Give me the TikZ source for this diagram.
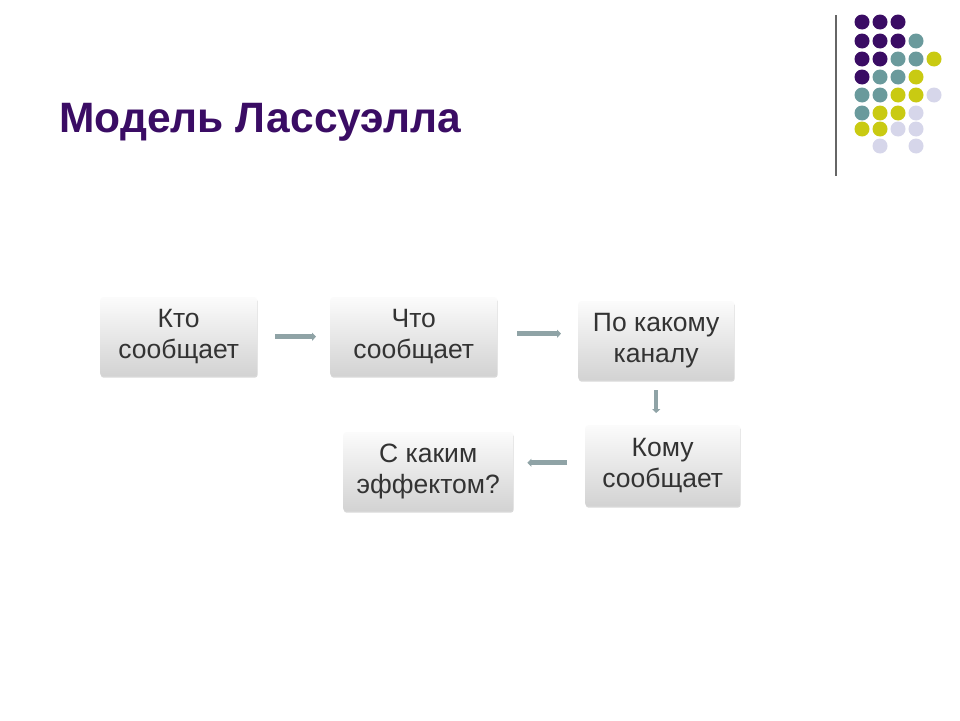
\documentclass[tikz,border=0pt]{standalone}
\usepackage{fontspec}
\setmainfont{Liberation Sans}
\usetikzlibrary{arrows.meta,shadows}
\definecolor{pu}{HTML}{3A0C64}
\definecolor{te}{HTML}{6A9A9C}
\definecolor{ye}{HTML}{C9CA12}
\definecolor{li}{HTML}{D6D6EA}
\definecolor{arr}{HTML}{8FA3A6}
\tikzset{
  box/.style={draw=none,rounded corners=3pt,top color=white!97!gray,bottom color=gray!35,drop shadow={shadow xshift=0.5pt,shadow yshift=-1.5pt,opacity=0.3},
    align=center,text=black!80,font=\fontsize{26.5}{31}\selectfont,anchor=north west,inner sep=2pt},
  conn/.style={line width=4.5pt,draw=arr,-{Triangle[length=4pt,width=8pt]}}
}
\begin{document}
\begin{tikzpicture}[x=1pt,y=-1pt]
\useasboundingbox (0,0) rectangle (960,720);
\fill[white] (0,0) rectangle (960,720);
\node[anchor=west,text=pu,font=\bfseries\fontsize{42.5}{46}\selectfont] (title) at (56,122) {Модель Лассуэлла};
\draw[gray!80!black,line width=2pt] (836,15) -- (836,176);
\foreach \r/\cols in {22/{1/pu,2/pu,3/pu},41/{1/pu,2/pu,3/pu,4/te},59/{1/pu,2/pu,3/te,4/te,5/ye},77/{1/pu,2/te,3/te,4/ye},95/{1/te,2/te,3/ye,4/ye,5/li},113/{1/te,2/ye,3/ye,4/li},129/{1/ye,2/ye,3/li,4/li},146/{2/li,4/li}}{
  \foreach \c/\col in \cols { \fill[\col] ({844+18*\c},\r) circle (7.5pt); }
}
\node[box,minimum width=157pt,minimum height=79pt] (a) at (100,297) {Кто\\сообщает};
\node[box,minimum width=167pt,minimum height=79pt] (b) at (330,297) {Что\\сообщает};
\node[box,minimum width=156pt,minimum height=79pt] (c) at (578,301) {По какому\\каналу};
\node[box,minimum width=155pt,minimum height=81pt] (d) at (585,425) {Кому\\сообщает};
\node[box,minimum width=170pt,minimum height=79pt] (e) at (343,432) {С каким\\эффектом?};
\draw[conn] ([xshift=18pt]a.east) -- ([xshift=-14pt]a.east -| b.west);
\draw[conn] ([xshift=20pt,yshift=3pt]b.east) -- ([xshift=-17pt,yshift=3pt]b.east -| c.west);
\draw[conn] ([yshift=-10pt]c.south) -- ([yshift=12pt]c.south |- d.north);
\draw[conn] ([xshift=-18pt,yshift=3pt]d.west) -- ([xshift=14pt,yshift=3pt]d.west -| e.east);
\end{tikzpicture}
\end{document}
